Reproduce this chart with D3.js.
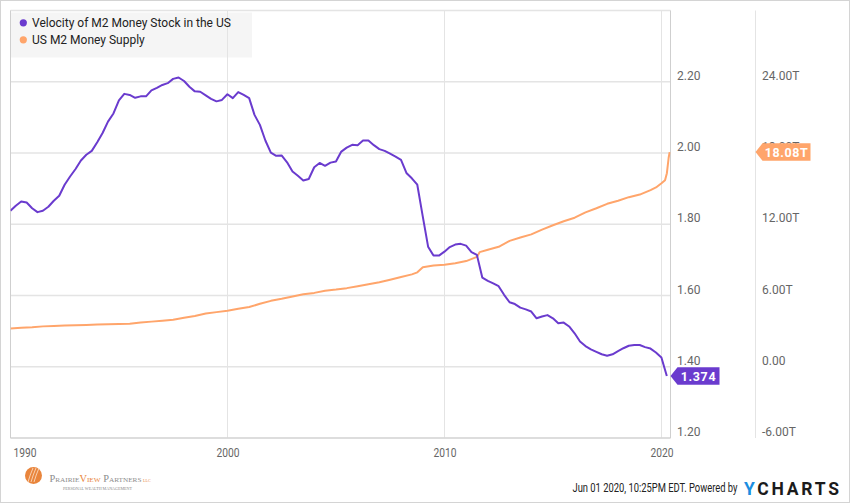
<!DOCTYPE html>
<html>
<head>
<meta charset="utf-8">
<script src="https://cdn.jsdelivr.net/npm/d3@7"></script>
<style>
  html, body { margin: 0; padding: 0; background: #fff; }
  svg text { font-family: Roboto, "Noto Sans", sans-serif; }
</style>
</head>
<body>
<div id="chart"></div>
<script>
// velocity of M2, quarterly, first value is 1989Q4 (quarter end dates)
var velocityStart = [1989, 12];
var velocity = [
  1.838, 1.852, 1.864, 1.861, 1.845, 1.834, 1.838, 1.849, 1.866, 1.880,
  1.911, 1.934, 1.955, 1.979, 1.995, 2.006, 2.030, 2.056, 2.088, 2.111,
  2.148, 2.166, 2.163, 2.155, 2.159, 2.159, 2.176, 2.183, 2.191, 2.196,
  2.208, 2.212, 2.202, 2.186, 2.173, 2.172, 2.162, 2.152, 2.145, 2.149,
  2.165, 2.154, 2.171, 2.163, 2.154, 2.107, 2.079, 2.035, 2.001, 1.992,
  1.993, 1.974, 1.948, 1.936, 1.923, 1.927, 1.960, 1.972, 1.964, 1.973,
  1.976, 2.004, 2.015, 2.023, 2.022, 2.035, 2.035, 2.022, 2.011, 2.006,
  1.998, 1.990, 1.981, 1.944, 1.929, 1.911, 1.822, 1.737, 1.712, 1.712,
  1.723, 1.736, 1.743, 1.745, 1.740, 1.722, 1.714, 1.650, 1.641, 1.634,
  1.626, 1.602, 1.581, 1.576, 1.566, 1.561, 1.555, 1.536, 1.541, 1.545,
  1.536, 1.522, 1.524, 1.513, 1.494, 1.471, 1.458, 1.449, 1.442, 1.435,
  1.431, 1.435, 1.444, 1.452, 1.459, 1.461, 1.461, 1.455, 1.451, 1.440,
  1.426, 1.374
];

// US M2 money supply, trillions
var m2Dates = [
  "1990-01-01","1990-07-01","1991-01-01","1991-07-01","1992-01-01","1992-07-01",
  "1993-01-01","1993-07-01","1994-01-01","1994-07-01","1995-01-01","1995-07-01",
  "1996-01-01","1996-07-01","1997-01-01","1997-07-01","1998-01-01","1998-07-01",
  "1999-01-01","1999-07-01","2000-01-01","2000-07-01","2001-01-01","2001-07-01",
  "2002-01-01","2002-07-01","2003-01-01","2003-07-01","2004-01-01","2004-07-01",
  "2005-01-01","2005-07-01","2006-01-01","2006-07-01","2007-01-01","2007-07-01",
  "2008-01-01","2008-07-01","2008-10-01","2009-01-01","2009-07-01","2010-01-01",
  "2010-07-01","2011-01-01","2011-07-01","2011-08-15","2012-01-01","2012-07-01",
  "2013-01-01","2013-07-01","2014-01-01","2014-07-01","2015-01-01","2015-07-01",
  "2016-01-01","2016-07-01","2017-01-01","2017-07-01","2018-01-01","2018-07-01",
  "2019-01-01","2019-07-01","2019-10-01","2020-01-01","2020-03-01","2020-04-01",
  "2020-05-01","2020-05-18"
];
var m2Values = [
  3.22, 3.28, 3.33, 3.40, 3.44, 3.47,
  3.50, 3.52, 3.55, 3.57, 3.59, 3.62,
  3.72, 3.80, 3.88, 3.96, 4.12, 4.28,
  4.48, 4.60, 4.72, 4.88, 5.03, 5.30,
  5.55, 5.72, 5.92, 6.10, 6.22, 6.40,
  6.50, 6.62, 6.78, 6.95, 7.12, 7.33,
  7.56, 7.78, 7.95, 8.38, 8.52, 8.58,
  8.72, 8.90, 9.25, 9.65, 9.85, 10.10,
  10.60, 10.88, 11.15, 11.55, 11.92, 12.25,
  12.55, 13.00, 13.35, 13.72, 13.98, 14.28,
  14.50, 14.88, 15.10, 15.45, 15.70, 16.30,
  17.60, 18.08
];

var leftTicks = [1.20, 1.40, 1.60, 1.80, 2.00, 2.20, 2.40];
var rightTicks = [-6, 0, 6, 12, 18, 24, 30];
var yearTicks = [1990, 2000, 2010, 2020];
var seriesNames = ["Velocity of M2 Money Stock in the US", "US M2 Money Supply"];
var colors = ["#6a3bce", "#ffa56b"];

var W = 850, H = 503;
var pLeft = 10.5, pRight = 670.5, pTop = 10.5, pBottom = 438;
var sep = 755.5;

var svg = d3.select("#chart").append("svg")
    .attr("width", W).attr("height", H);

svg.append("rect").attr("x", 0.5).attr("y", 0.5)
    .attr("width", W - 1).attr("height", H - 1)
    .attr("fill", "#fff").attr("stroke", "#d4d4d4");

var x = d3.scaleTime()
    .domain([new Date(1990, 0, 1), new Date(2020, 5, 1)])
    .range([pLeft, pRight]);
var yL = d3.scaleLinear().domain([1.2, 2.4]).range([pBottom, pTop]);
var yR = d3.scaleLinear().domain([-6, 30]).range([pBottom, pTop]);

// legend background first, grid goes over it
svg.append("rect").attr("x", 11).attr("y", 12.5)
    .attr("width", 241).attr("height", 45).attr("fill", "#f5f5f5");

// horizontal grid
svg.append("g").selectAll("line").data(leftTicks).enter().append("line")
    .attr("x1", pLeft).attr("x2", pRight)
    .attr("y1", d => yL(d)).attr("y2", d => yL(d))
    .attr("stroke", "#e4e4e4").attr("stroke-width", 1.5);

// vertical grid
svg.append("g").selectAll("line").data(yearTicks).enter().append("line")
    .attr("x1", d => x(new Date(d, 0, 1))).attr("x2", d => x(new Date(d, 0, 1)))
    .attr("y1", pTop).attr("y2", pBottom)
    .attr("stroke", "#e4e4e4").attr("stroke-width", 1);

// plot borders
svg.append("line").attr("x1", pLeft).attr("x2", pLeft).attr("y1", pTop).attr("y2", pBottom)
    .attr("stroke", "#cfcfcf");
svg.append("line").attr("x1", pRight).attr("x2", pRight).attr("y1", pTop).attr("y2", pBottom)
    .attr("stroke", "#cfcfcf");
svg.append("line").attr("x1", pLeft).attr("x2", pRight).attr("y1", pBottom).attr("y2", pBottom)
    .attr("stroke", "#cfcfcf");
svg.append("line").attr("x1", sep).attr("x2", sep).attr("y1", pTop).attr("y2", pBottom)
    .attr("stroke", "#e4e4e4");

// axis labels
svg.append("g").selectAll("text").data(leftTicks.filter(d => d < 2.3)).enter().append("text")
    .attr("x", 677).attr("y", d => yL(d) - 2)
    .attr("font-size", 12).attr("fill", "#666")
    .text(d => d.toFixed(2));
svg.append("g").selectAll("text").data(rightTicks.filter(d => d < 28)).enter().append("text")
    .attr("x", 762).attr("y", d => yR(d) - 2)
    .attr("font-size", 12).attr("fill", "#666")
    .text(d => d === 0 ? "0.00" : d.toFixed(2) + "T");
svg.append("g").selectAll("text").data(yearTicks).enter().append("text")
    .attr("x", (d, i) => i === 0 ? 13.5 : x(new Date(d, 0, 1)) - 11)
    .attr("y", 457)
    .attr("font-size", 12.5).attr("fill", "#666")
    .attr("textLength", 23).attr("lengthAdjust", "spacingAndGlyphs")
    .text(d => d);

// clip to plot
svg.append("clipPath").attr("id", "clip").append("rect")
    .attr("x", pLeft).attr("y", pTop).attr("width", pRight - pLeft).attr("height", pBottom - pTop);

var velData = velocity.map((v, i) => ({
  date: new Date(velocityStart[0], velocityStart[1] + 3 * i, 0), value: v
}));
var m2Data = m2Dates.map((d, i) => ({ date: new Date(d + "T00:00:00"), value: m2Values[i] }));

var plot = svg.append("g").attr("clip-path", "url(#clip)");
plot.append("path").datum(m2Data)
    .attr("d", d3.line().x(d => x(d.date)).y(d => yR(d.value)))
    .attr("fill", "none").attr("stroke", colors[1]).attr("stroke-width", 2)
    .attr("stroke-linejoin", "round");
plot.append("path").datum(velData)
    .attr("d", d3.line().x(d => x(d.date)).y(d => yL(d.value)))
    .attr("fill", "none").attr("stroke", colors[0]).attr("stroke-width", 2)
    .attr("stroke-linejoin", "round");

// last value tags
function tag(tipX, cy, w, color, label) {
  var h = 17.5, g = svg.append("g");
  g.append("path")
    .attr("d", "M" + tipX + "," + cy + "L" + (tipX + 7) + "," + (cy - h / 2) +
      "H" + (tipX + 7 + w) + "V" + (cy + h / 2) + "H" + (tipX + 7) + "Z")
    .attr("fill", color);
  g.append("text").attr("x", tipX + 7 + w / 2).attr("y", cy + 4.5)
    .attr("text-anchor", "middle").attr("font-size", 12.5)
    .attr("font-weight", "bold").attr("fill", "#fff")
    .attr("letter-spacing", 0.6)
    .text(label);
}
var lastV = velData[velData.length - 1];
var lastM = m2Data[m2Data.length - 1];
tag(pRight, yL(lastV.value), 42, colors[0], lastV.value.toFixed(3));
tag(sep, yR(lastM.value), 48, colors[1], lastM.value.toFixed(2) + "T");

// legend
var leg = svg.append("g").selectAll("g").data(seriesNames).enter().append("g")
    .attr("transform", (d, i) => "translate(0," + (i * 17) + ")");
leg.append("circle").attr("cx", 23.3).attr("cy", 22.8).attr("r", 3.6)
    .attr("fill", (d, i) => colors[i]);
leg.append("text").attr("x", 32).attr("y", 27).attr("font-size", 12)
    .attr("fill", "#222").text(d => d);

// footer
svg.append("text").attr("x", 572.5).attr("y", 492)
    .attr("font-size", 12).attr("fill", "#222")
    .attr("textLength", 165).attr("lengthAdjust", "spacingAndGlyphs")
    .text("Jun 01 2020, 10:25PM EDT.  Powered by");
var yc = svg.append("text").attr("x", 744).attr("y", 495)
    .attr("font-size", 17.5).attr("font-weight", "bold")
    .attr("textLength", 95).attr("lengthAdjust", "spacing");
yc.append("tspan").attr("fill", "#1a8ee0").text("Y");
yc.append("tspan").attr("fill", "#1b1b1b").text("CHARTS");

// PrairieView logo
var logo = svg.append("g");
logo.append("circle").attr("cx", 33.5).attr("cy", 475.5).attr("r", 8.5).attr("fill", "#e9853c");
[-3, 0, 3].forEach(function (dx) {
  logo.append("path")
    .attr("d", "M" + (31 + dx) + ",482 Q" + (33 + dx) + ",475 " + (36 + dx) + ",468")
    .attr("fill", "none").attr("stroke", "#fbe3cf").attr("stroke-width", 0.8);
});
var pv = logo.append("text").attr("x", 49.5).attr("y", 482)
    .attr("font-size", 10).style("font-family", "'Liberation Serif', 'DejaVu Serif', serif")
    .style("font-variant", "small-caps")
    .attr("textLength", 92).attr("lengthAdjust", "spacingAndGlyphs");
pv.append("tspan").attr("fill", "#8c8c8c").text("Prairie");
pv.append("tspan").attr("fill", "#e9853c").text("View");
pv.append("tspan").attr("fill", "#8c8c8c").text(" Partners");
logo.append("text").attr("x", 143).attr("y", 482).attr("font-size", 4)
    .attr("fill", "#e9853c").style("font-family", "'Liberation Serif', serif").text("LLC");
logo.append("text").attr("x", 63).attr("y", 490).attr("font-size", 3.6)
    .attr("fill", "#888").style("font-family", "'Liberation Serif', serif")
    .attr("textLength", 69).attr("lengthAdjust", "spacingAndGlyphs")
    .text("PERSONAL WEALTH MANAGEMENT");
</script>
</body>
</html>
